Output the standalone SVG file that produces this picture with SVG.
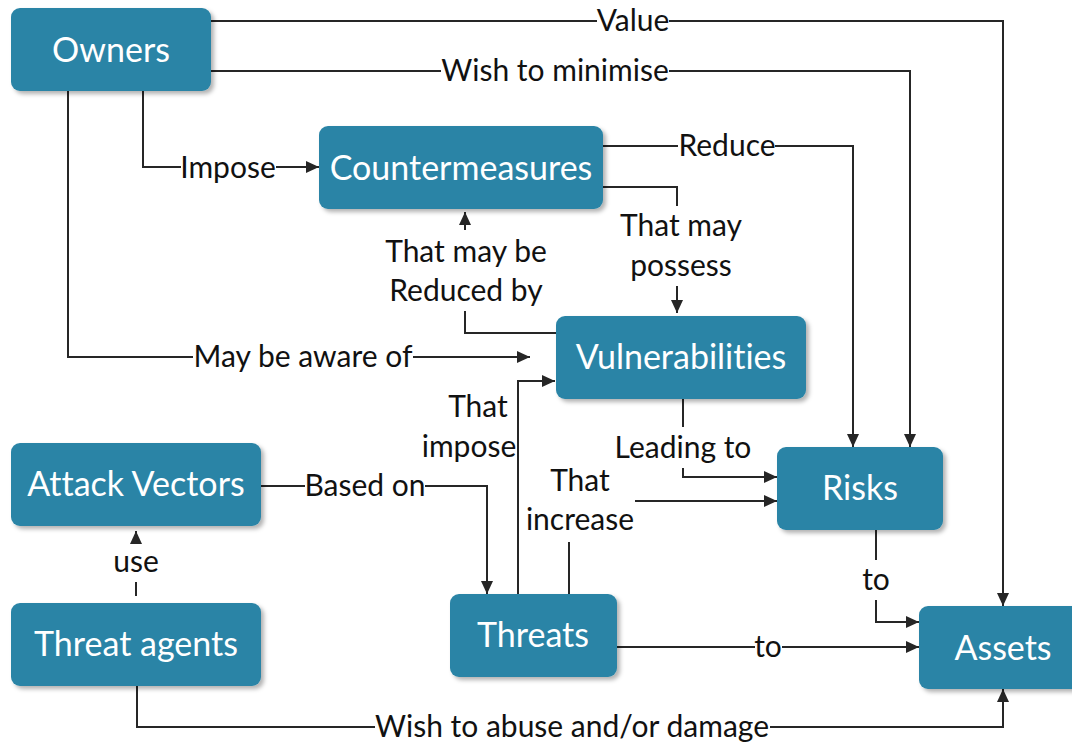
<svg xmlns="http://www.w3.org/2000/svg" width="1072" height="743" viewBox="0 0 1072 743">
<style>
.box{fill:#2B84A6}
.nt{font-family:Lato,"Open Sans",sans-serif;font-size:34px;fill:#fff;text-anchor:middle;font-variant-ligatures:none}
.lb{font-family:Lato,"Open Sans",sans-serif;font-size:30px;fill:#111;text-anchor:middle;font-variant-ligatures:none}
.ln{fill:none;stroke:#262626;stroke-width:2}
.ar{marker-end:url(#ah)}
</style>
<defs>
<marker id="ah" markerUnits="userSpaceOnUse" markerWidth="14" markerHeight="12" refX="13" refY="6" orient="auto">
<path d="M0,0 L13,6 L0,12 z" fill="#262626"/>
</marker>
<filter id="sh" x="-10%" y="-10%" width="130%" height="140%">
<feDropShadow dx="3" dy="3" stdDeviation="2" flood-color="#000" flood-opacity="0.3"/>
</filter>
</defs>
<rect width="1072" height="743" fill="#fff"/>
<g id="connectors">
<path class="ln" d="M211,21 H597"/><path class="ln ar" d="M669,21 H1003 V606"/>
<path class="ln" d="M211,71 H441"/><path class="ln ar" d="M669,71 H910 V447"/>
<path class="ln" d="M143,91 V167 H181"/><path class="ln ar" d="M276,167 H319"/>
<path class="ln" d="M68,91 V357 H193"/><path class="ln ar" d="M413,357 H530"/>
<path class="ln" d="M603,146 H678"/><path class="ln ar" d="M775,146 H853 V447"/>
<path class="ln" d="M603,187 H677 V206"/><path class="ln ar" d="M677,286 V313"/>
<path class="ln" d="M556,333 H465 V311"/><path class="ln ar" d="M465,230 V212"/>
<path class="ln ar" d="M518,594 V381 H555"/>
<path class="ln" d="M683,398 V427"/><path class="ln ar" d="M683,468 V477 H777"/>
<path class="ln" d="M569,594 V542"/><path class="ln ar" d="M635,501 H777"/>
<path class="ln" d="M261,486 H305"/><path class="ln ar" d="M425,486 H487 V594"/>
<path class="ln" d="M136,596 V582"/><path class="ln ar" d="M136,542 V531"/>
<path class="ln" d="M137,686 V727 H375"/><path class="ln ar" d="M770,727 H1003 V689"/>
<path class="ln" d="M617,647 H755"/><path class="ln ar" d="M782,647 H919"/>
<path class="ln" d="M876,530 V560"/><path class="ln ar" d="M876,600 V622 H919"/>
<text class="lb" x="633" y="31">Value</text>
<text class="lb" x="555" y="81">Wish to minimise</text>
<text class="lb" x="228" y="178">Impose</text>
<text class="lb" x="303" y="367">May be aware of</text>
<text class="lb" x="727" y="156">Reduce</text>
<text class="lb" x="681" y="236">That may</text>
<text class="lb" x="681" y="276">possess</text>
<text class="lb" x="466" y="262">That may be</text>
<text class="lb" x="466" y="301">Reduced by</text>
<text class="lb" x="478" y="417">That</text>
<text class="lb" x="469" y="457">impose</text>
<text class="lb" x="683" y="458">Leading to</text>
<text class="lb" x="580" y="491">That</text>
<text class="lb" x="580" y="530">increase</text>
<text class="lb" x="365" y="496">Based on</text>
<text class="lb" x="136" y="572">use</text>
<text class="lb" x="572" y="737">Wish to abuse and/or damage</text>
<text class="lb" x="768" y="657">to</text>
<text class="lb" x="876" y="590">to</text>
</g>
<g id="owners"><rect class="box" filter="url(#sh)" x="11" y="8" width="200" height="83" rx="9"/><text class="nt" x="111" y="62">Owners</text></g>
<g id="countermeasures"><rect class="box" filter="url(#sh)" x="319" y="126" width="284" height="83" rx="9"/><text class="nt" x="461" y="180">Countermeasures</text></g>
<g id="vulnerabilities"><rect class="box" filter="url(#sh)" x="556" y="316" width="250" height="83" rx="9"/><text class="nt" x="681" y="369">Vulnerabilities</text></g>
<g id="attack-vectors"><rect class="box" filter="url(#sh)" x="11" y="443" width="250" height="83" rx="9"/><text class="nt" x="136" y="496">Attack Vectors</text></g>
<g id="threat-agents"><rect class="box" filter="url(#sh)" x="11" y="603" width="250" height="83" rx="9"/><text class="nt" x="136" y="656">Threat agents</text></g>
<g id="threats"><rect class="box" filter="url(#sh)" x="450" y="594" width="167" height="83" rx="9"/><text class="nt" x="533" y="647">Threats</text></g>
<g id="risks"><rect class="box" filter="url(#sh)" x="777" y="447" width="166" height="83" rx="9"/><text class="nt" x="860" y="500">Risks</text></g>
<g id="assets"><rect class="box" filter="url(#sh)" x="919" y="606" width="168" height="83" rx="9"/><text class="nt" x="1003" y="660">Assets</text></g>
</svg>
